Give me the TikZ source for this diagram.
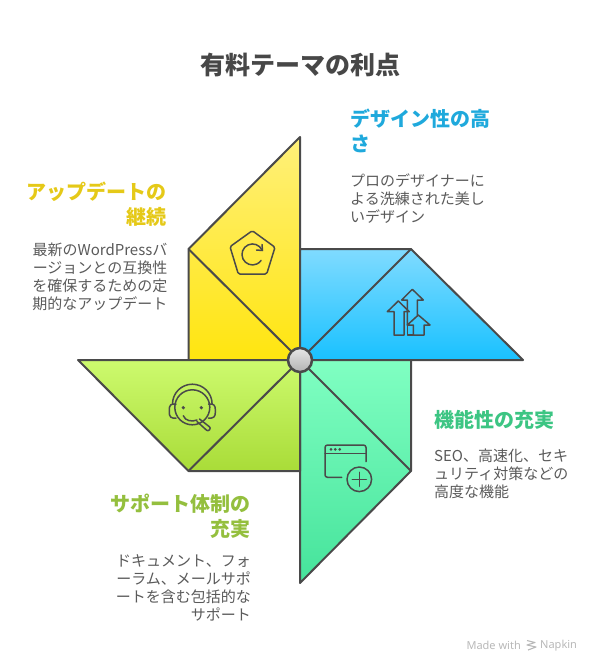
\documentclass[tikz,border=0pt]{standalone}
\usepackage{fontspec}
\setmainfont{Noto Sans CJK JP}
\newfontfamily\latinfont{Noto Sans}

\definecolor{inkline}{HTML}{4A4A4A}
\definecolor{bodytext}{HTML}{5A5A5A}
\definecolor{yellowtop}{HTML}{FFF07A}
\definecolor{yellowlow}{HTML}{FFE50F}
\definecolor{bluetop}{HTML}{80DBFF}
\definecolor{bluelow}{HTML}{19C1FF}
\definecolor{greentop}{HTML}{80FFC2}
\definecolor{greenlow}{HTML}{45E39B}
\definecolor{limetop}{HTML}{CDFA6E}
\definecolor{limelow}{HTML}{A9DC38}
\definecolor{yellowhead}{HTML}{E5C918}
\definecolor{bluehead}{HTML}{1FA9DC}
\definecolor{greenhead}{HTML}{3CC583}
\definecolor{limehead}{HTML}{94BF3E}
\tikzset{
    blade/.style={draw=inkline, line width=2pt, line join=round},
    icon/.style={draw=inkline, line width=1.5pt, line join=round, line cap=round},
    headtext/.style={inner sep=0pt, font=\fontsize{20}{25}\selectfont\bfseries},
    maintext/.style={inner sep=0pt, text=bodytext, font=\fontsize{15}{18}\selectfont},
    credit/.style={inner sep=0pt, text=black!28, font=\latinfont\fontsize{11}{12}\selectfont},
}

\begin{document}
\begin{tikzpicture}[x=1pt, y=-1pt]
\useasboundingbox (0,0) rectangle (600,672);

% Title
\node[inner sep=0pt, text=black!72, font=\fontsize{25}{30}\selectfont\bfseries] (title) at (300,65) {有料テーマの利点};

% Draw the four blades
\filldraw[blade, top color=yellowtop, bottom color=yellowlow] (300,137) -- (188.5,249) -- (188.5,360) -- (300,360) -- cycle;
\filldraw[blade, top color=bluetop, bottom color=bluelow] (300,249) -- (411,249) -- (523,360) -- (300,360) -- cycle;
\filldraw[blade, top color=greentop, bottom color=greenlow] (300,360) -- (411,360) -- (411,471) -- (300,583) -- cycle;
\filldraw[blade, top color=limetop, bottom color=limelow] (78,360) -- (300,360) -- (300,471) -- (188.5,471) -- cycle;

% Inner folds, all meet at the hub
\coordinate (hub) at (300,360);
\foreach \fold in {(188.5,249), (411,249), (411,471), (188.5,471)} {
    \draw[blade] \fold -- (hub);
}
\shade[top color=black!10, bottom color=black!30] (hub) circle (12);
\draw[blade, line width=2.5pt] (hub) circle (12);

% Pentagon icon
\draw[icon, rounded corners=1.5pt] (252.3,230.7) -- (275,247.3) -- (266.7,274) -- (238.3,274) -- (230,246.7) -- cycle;
\draw[icon] (262,250) arc (-25:-325:10.5 and 10.5);
\draw[icon] (262,244.5) -- (262.5,250.5) -- (256.5,250);

% Arrows icon
\draw[icon] (394,335) -- (394,311.7) -- (387.3,311.7) -- (398.3,301) -- (409.3,311.7) -- (404,311.7) -- (404,335) -- cycle;
\draw[icon] (407.3,325) -- (407.3,300) -- (401.7,300) -- (412.3,289.3) -- (423.3,300) -- (417.3,300) -- (417.3,315);
\draw[icon] (413.3,335) -- (413.3,325) -- (407.3,325) -- (418.3,315) -- (430,325) -- (424,325) -- (424,335) -- cycle;
\draw[icon] (407.3,325) -- (407.3,335) -- (413.3,335);

% Headset icon
\draw[icon] (192.3,407.3) circle (17.5);
\draw[icon] (172.5,404) arc (180:360:19.8 and 19.8);
\draw[icon, rounded corners=3pt] (176,404) -- (170,404) -- (169,411) -- (170,418) -- (176,418);
\draw[icon, rounded corners=3pt] (208.5,404) -- (214.5,404) -- (215.7,411) -- (214.5,418) -- (208.5,418);
\foreach \eyex in {183.3, 201.3} {
    \fill[inkline] (\eyex,407.7) circle (1.8);
}
\draw[icon] (183.3,415.7) .. controls (185,421) and (192,422) .. (197,420);
\draw[icon, rounded corners=2pt] (199.5,419) -- (211,428) -- (208,431.5) -- (197,421.5);

% Browser icon
\draw[icon, rounded corners=2.5pt] (341.7,477.3) -- (325,477.3) -- (325,445) -- (366,445) -- (366,461.7);
\draw[icon] (325,453.3) -- (366,453.3);
\foreach \dotx in {331, 335.3, 339.7} {
    \fill[inkline] (\dotx,449.3) circle (1.5);
}
\draw[icon] (359.3,479.3) circle (12.3);
\draw[icon] (359.3,472.3) -- (359.3,486.3) (352.3,479.3) -- (366.3,479.3);

% Labels
\node[headtext, anchor=north west, align=left, text=bluehead] (designhead) at (350,109) {デザイン性の高\\さ};
\node[maintext, anchor=north west, align=left] (designtext) at (350,173.5) {プロのデザイナーに\\よる洗練された美し\\いデザイン};
\node[headtext, anchor=north east, align=right, text=yellowhead] (updatehead) at (166.5,182) {アップデートの\\継続};
\node[maintext, anchor=north east, align=right] (updatetext) at (167.5,242.5) {最新のWordPressバ\\ージョンとの互換性\\を確保するための定\\期的なアップデート};
\node[headtext, anchor=north west, align=left, text=greenhead] (funchead) at (434,410) {機能性の充実};
\node[maintext, anchor=north west, align=left] (functext) at (434,449) {SEO、高速化、セキ\\ュリティ対策などの\\高度な機能};
\node[headtext, anchor=north east, align=right, text=limehead] (supporthead) at (251,494) {サポート体制の\\充実};
\node[maintext, anchor=north east, align=right] (supporttext) at (251,554) {ドキュメント、フォ\\ーラム、メールサポ\\ートを含む包括的な\\サポート};

% Credit line
\node[credit, anchor=east] (madewith) at (521,645.5) {Made with};
\node[credit, anchor=west] (napkin) at (540,645.5) {Napkin};
\draw[black!28, line width=1.1pt, line join=round] (527,640.5) -- (535,642.5) -- (527,645) -- (536,647) -- (528,650);
\end{tikzpicture}
\end{document}
